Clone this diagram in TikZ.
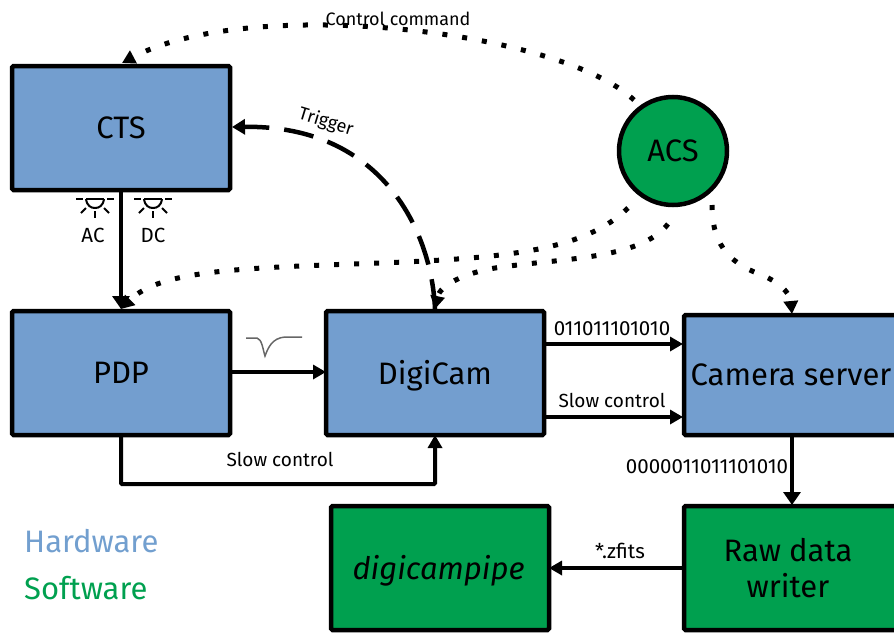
\documentclass[tikz,border=0pt]{standalone}
\usepackage{fontspec}
\setmainfont{Fira Sans}
\usetikzlibrary{arrows.meta}
\definecolor{hw}{HTML}{729FCF}
\definecolor{hwb}{HTML}{739ECF}
\definecolor{sw}{HTML}{00A04F}
\tikzset{
  x=1pt,y=-1pt,
  blockbox/.style={draw=black,line width=4.5pt,outer sep=0pt,rounded corners=1.5pt,minimum width=218pt,minimum height=124pt,inner sep=0pt,align=center,font=\fontsize{31}{36}\selectfont,anchor=north west},
  hwbox/.style={blockbox,fill=hwb},
  swbox/.style={blockbox,fill=sw},
  link/.style={line width=4.5pt,-{Triangle[length=13pt,width=17pt]}},
  thinlink/.style={line width=4pt,-{Triangle[length=13pt,width=14pt]}},
  dotlink/.style={line width=5pt,dash pattern=on 5pt off 15pt,-{Triangle[length=13pt,width=14pt]}},
  lab/.style={font=\fontsize{19}{22}\selectfont,inner sep=0pt},
  numlab/.style={font=\fontsize{20.5}{22}\selectfont,inner sep=0pt},
  lamp/.style={line width=2pt},
}
\begin{document}
\begin{tikzpicture}
\useasboundingbox (0,0) rectangle (894,632);
\node[hwbox] (cts) at (12,66) {CTS};
\node[hwbox] (pdp) at (12,311) {PDP};
\node[hwbox,text height=22pt,text depth=0pt] (digi) at (326,311) {DigiCam};
\node[hwbox,minimum height=120pt] (cam) at (684,315) {\hspace*{-4pt}Camera server};
\node[swbox] (raw) at (684,506) {\hspace*{-10pt}Raw data\\\hspace*{-10pt}writer};
\node[swbox,text height=22pt,text depth=0pt] (pipe) at (331,506) {\hspace*{-3pt}\itshape digicampipe};

\coordinate (ctsb) at (121,190);
\coordinate (pdpt) at (121,309);
\coordinate (pdpb) at (121,435);
\coordinate (digib) at (435,435);
\draw[link] (ctsb) -- (pdpt);
\draw[thinlink] (230,372) coordinate (p1) -- (326,372) coordinate (d0);
\draw[thinlink,rounded corners=1pt] (pdpb) |- (435,484) -- (digib);
\draw[thinlink] (544,344) coordinate (d1) -- (683,344) coordinate (c1);
\draw[thinlink] (544,417) coordinate (d2) -- (683,417) coordinate (c2);
\draw[link] (792,435) coordinate (camb) -- (792,505) coordinate (rawt);
\draw[thinlink] (684,568) coordinate (r1) -- (549,568) coordinate (pipee);

% dotted connectors
\coordinate (acs1) at (634,100);
\coordinate (acs2) at (628,208);
\coordinate (acs3) at (668,224);
\coordinate (acs4) at (712,205);
\draw[dotlink] (acs1) .. controls (560,30) and (250,-5) .. (122,63) coordinate (ctst);
\draw[dotlink] (acs2) .. controls (585,250) and (510,258) .. (380,263) .. controls (240,268) and (160,270) .. (121,309);
\draw[dotlink] (acs3) .. controls (640,260) and (560,258) .. (495,268) .. controls (465,273) and (440,285) .. (435,309) coordinate (digit);
\draw[dotlink] (acs4) .. controls (712,240) and (725,262) .. (762,275) .. controls (778,282) and (790,292) .. (792,314) coordinate (camt);

\node[draw=black,fill=sw,line width=4.5pt,circle,outer sep=0pt,minimum size=108pt,inner sep=0pt,font=\fontsize{31}{36}\selectfont] (acs) at (673,151) {ACS};

% trigger
\draw[line width=4.5pt,dash pattern=on 30pt off 15pt,-{Triangle[length=13pt,width=15pt]}] (digit) .. controls (432,235) and (385,125) .. (232,127);

% labels
\node[font=\fontsize{18}{22}\selectfont,inner sep=0pt] at (398,19) {Control command};
\node[font=\fontsize{18}{22}\selectfont,inner sep=0pt,rotate=-17] at (326,122) {Trigger};
\node[numlab] (ac) at (93,235) {AC};
\node[numlab] (dc) at (153,235) {DC};
\node[lab] at (280,459) {Slow control};
\node[lab] at (612,400) {Slow control};
\node[numlab] at (612,329) {011011101010};
\node[numlab] at (707,467) {0000011011101010};
\node[numlab] at (620,551) {*.zfits};
\node[font=\fontsize{31}{36}\selectfont,text=hw,inner sep=0pt,anchor=west] at (24,541) {Hardware};
\node[font=\fontsize{31}{36}\selectfont,text=sw,inner sep=0pt,anchor=west] at (24,588) {Software};

% lamps
\foreach \cx in {95,153}{
  \begin{scope}[shift={(\cx,0)},lamp]
    \draw (-19,199) -- (-12,199);
    \draw (12,199) -- (19,199);
    \draw (-9,199) -- (9,199);
    \draw (-9,199) .. controls (-8,206) and (-4,208) .. (0,208) .. controls (4,208) and (8,206) .. (9,199);
    \draw (-14,213) -- (-9,208);
    \draw (14,213) -- (9,208);
    \draw (0,211) -- (0,218);
  \end{scope}
}
% pulse
\draw[line width=1.5pt,draw=black!60] (246,338) -- (257,338) .. controls (262,339) and (263,350) .. (265,356) .. controls (268,348) and (272,338) .. (285,337) -- (302,337);
\end{tikzpicture}
\end{document}
